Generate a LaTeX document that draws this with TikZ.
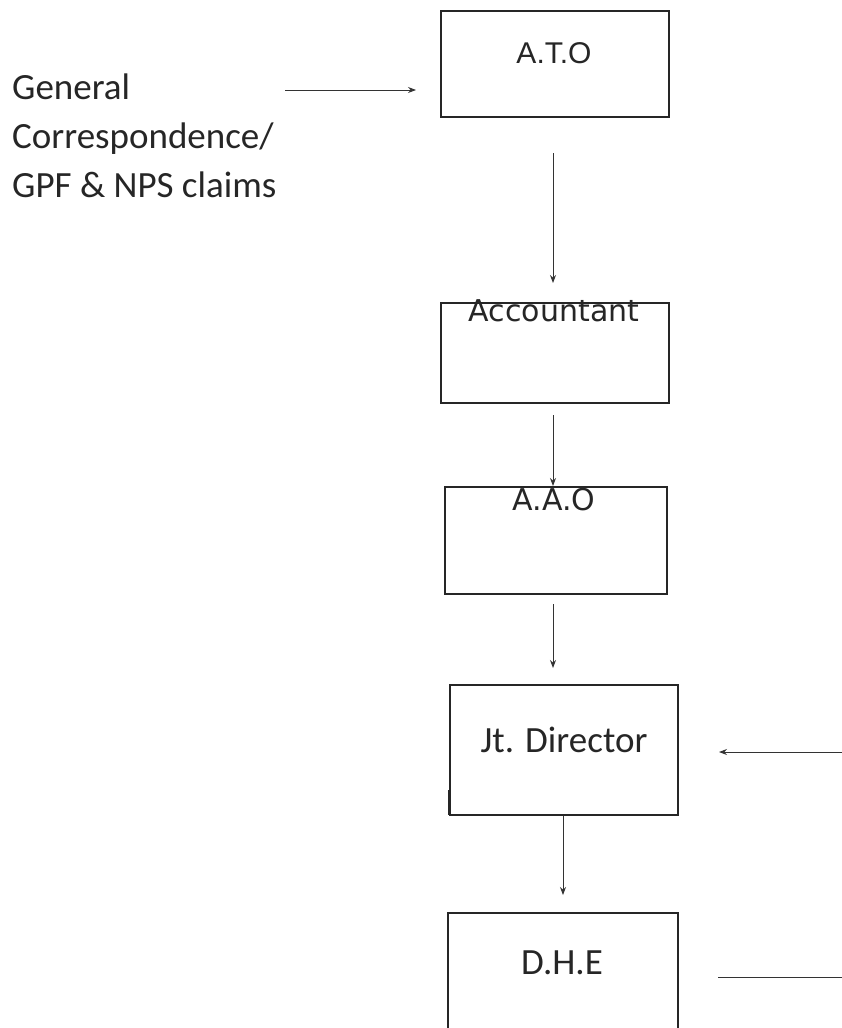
\documentclass[tikz,border=0pt]{standalone}
\usepackage{fontspec}
\setmainfont{Carlito}
\newfontfamily\arialf{Liberation Sans}
\newfontfamily\dejaf{DejaVu Sans}
\usetikzlibrary{arrows.meta}
\begin{document}
\begin{tikzpicture}[x=1pt,y=-1pt,
  box/.style={draw=black!85,line width=1.4pt,rectangle,inner sep=0pt},
  lbl/.style={inner sep=0pt,anchor=base,text=black!85},
  src/.style={inner sep=0pt,anchor=base west,text=black!85,font=\fontsize{37}{42}\selectfont},
  conn/.style={draw=black!80,line width=0.9pt,-{Stealth[length=8pt,width=6pt]}},
  plain/.style={draw=black!80,line width=0.9pt}]
\useasboundingbox (0,0) rectangle (842,1028);
% boxes
\node[box,minimum width=228pt,minimum height=106pt] (ato) at (555,64) {};
\node[box,minimum width=228pt,minimum height=100pt] (acc) at (555,353) {};
\node[box,minimum width=222pt,minimum height=107pt] (aao) at (556,540.5) {};
\node[box,minimum width=228pt,minimum height=130pt] (jtd) at (564,750) {};
\node[box,minimum width=230pt,minimum height=140pt] (dhe) at (563,983) {};
\draw[black!85,line width=1.4pt] (448.6,790) -- (448.6,815);
% labels
\node[lbl,font=\arialf\fontsize{30}{36}\selectfont] (tato) at (554,63) {A.T.O};
\node[lbl,font=\dejaf\fontsize{30}{36}\selectfont] (tacc) at (554,321) {Accountant};
\node[lbl,font=\dejaf\fontsize{30}{36}\selectfont] (taao) at (554,510) {A.A.O};
\node[lbl,font=\fontsize{37}{42}\selectfont] (tjtd) at (564,752) {Jt. Director};
\node[lbl,font=\fontsize{37}{42}\selectfont] (tdhe) at (562,974) {D.H.E};
\node[src] (src1) at (12,99) {General};
\node[src] (src2) at (12,148) {Correspondence/};
\node[src] (src3) at (12,197) {GPF \& NPS claims};
% connector ends
\coordinate (s1) at (285,90);
\coordinate (e1) at (416,90);
\coordinate (a1) at (553,153);
\coordinate (a1e) at (553,283);
\coordinate (a2) at (553,415);
\coordinate (a2e) at (553,486);
\coordinate (a3) at (553,604);
\coordinate (a3e) at (553,668);
\coordinate (r1) at (842,752);
\coordinate (r1e) at (719,752);
\coordinate (a4) at (563,816);
\coordinate (a4e) at (563,895);
\coordinate (r2) at (718,977);
\coordinate (r2e) at (842,977);
\draw[conn] (s1) -- (e1);
\draw[conn] (a1) -- (a1e);
\draw[conn] (a2) -- (a2e);
\draw[conn] (a3) -- (a3e);
\draw[conn] (r1) -- (r1e);
\draw[conn] (a4) -- (a4e);
\draw[plain] (r2) -- (r2e);
\end{tikzpicture}
\end{document}
